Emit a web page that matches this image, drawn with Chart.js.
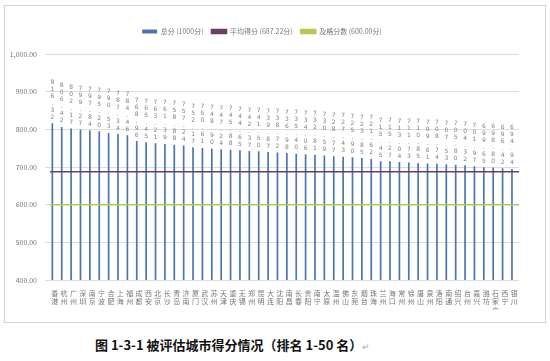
<!DOCTYPE html>
<html>
<head>
<meta charset="utf-8">
<script src="https://cdn.jsdelivr.net/npm/chart.js@4.4.1/dist/chart.umd.min.js"></script>
<style>
  body { margin: 0; background: #fff; width: 550px; height: 361px; overflow: hidden; position: relative; }
  #box { position: absolute; left: 4px; top: 5px; width: 540px; height: 316px; border: 1px solid #d4d4d4; }
  #caption { position: absolute; left: 95px; top: 335px; font-family: "Noto Sans CJK SC", sans-serif; font-weight: bold; font-size: 13px; color: #111; white-space: nowrap; }
  #caption span { color: #aaa; font-weight: normal; font-size: 9px; }
</style>
</head>
<body>
<div id="box"><canvas id="scoreChart" width="540" height="316"></canvas></div>
<div id="caption">图 1-3-1 被评估城市得分情况（排名 1-50 名）<span>↵</span></div>
<script>
// cities, ranked 1-50
const cities = ['香港','杭州','广州','深圳','南京','宁波','合肥','上海','福州','成都',
  '西安','北京','长沙','青岛','济南','厦门','武汉','苏州','天津','重庆',
  '无锡','郑州','昆明','大连','沈阳','南昌','长春','贵阳','南宁','太原',
  '温州','佛山','东莞','烟台','珠海','兰州','海口','常州','徐州','唐山',
  '泉州','洛阳','南通','绍兴','台州','嘉兴','潍坊','石家庄','西宁','银川'];

// total score of each city (out of 1000)
const scores = [816.32, 806.42, 802.17, 799.27, 797.84, 795.20, 790.53, 787.34, 784.46, 768.96,
  765.45, 763.21, 761.39, 758.88, 757.24, 752.17, 750.61, 748.90, 747.24, 745.88,
  744.65, 742.37, 741.50, 739.87, 738.72, 736.98, 735.40, 734.06, 732.81, 730.59,
  728.77, 727.43, 725.90, 723.85, 721.62, 715.45, 715.27, 713.04, 711.73, 710.85,
  709.61, 708.74, 707.53, 705.80, 704.32, 701.97, 699.65, 698.80, 696.42, 694.94];

const avgScore = 687.22;
const passScore = 600;
const yTicks = [400, 500, 600, 700, 800, 900, 1000];

const fmt = v => v.toLocaleString('en-US', {minimumFractionDigits: 2, maximumFractionDigits: 2});

//draws value labels above the bars, one character per line
const stackedLabels = {
  id: 'stackedLabels',
  afterDatasetsDraw(chart) {
    const ctx = chart.ctx;
    const meta = chart.getDatasetMeta(0);
    ctx.save();
    ctx.font = '6px "DejaVu Sans", sans-serif';
    ctx.fillStyle = '#808080';
    ctx.textAlign = 'center';
    ctx.textBaseline = 'bottom';
    meta.data.forEach((bar, i) => {
      const chars = scores[i].toFixed(2).split('');
      const step = 7;
      let y = bar.y - 3 - (chars.length - 1) * step;
      chars.forEach(c => {
        ctx.fillText(c, bar.x, y);
        y += step;
      });
    });
    ctx.restore();
  }
};

//extra room between legend and plot area
const legendGap = {
  id: 'legendGap',
  beforeLayout(chart) {
    const legend = chart.legend;
    if (legend && !legend._gapPatched) {
      const fit = legend.fit;
      legend.fit = function() {
        fit.call(this);
        this.height += 9;
      };
      legend._gapPatched = true;
    }
  }
};

Chart.defaults.font.family = '"Noto Sans CJK SC", sans-serif';
Chart.defaults.color = '#777';

new Chart(document.getElementById('scoreChart'), {
  type: 'bar',
  data: {
    labels: cities.map(c => c.split('')),
    datasets: [{
      label: '总分 (1000分)',
      data: scores,
      backgroundColor: '#4a76ad',
      barPercentage: 0.36,
      categoryPercentage: 1,
      order: 2
    }, {
      type: 'line',
      label: '平均得分 (687.22分)',
      data: [{x: 0, y: avgScore}, {x: 1, y: avgScore}],
      xAxisID: 'x2',
      borderColor: '#6e3f63',
      backgroundColor: '#6e3f63',
      borderWidth: 1.5,
      pointRadius: 0,
      order: 1
    }, {
      type: 'line',
      label: '及格分数 (600.00分)',
      data: [{x: 0, y: passScore}, {x: 1, y: passScore}],
      xAxisID: 'x2',
      borderColor: '#b3c94f',
      backgroundColor: '#b3c94f',
      borderWidth: 1.5,
      pointRadius: 0,
      order: 1
    }]
  },
  options: {
    responsive: false,
    animation: false,
    layout: { padding: { top: 14, right: 26, bottom: 12, left: 0 } },
    scales: {
      x: {
        afterFit: axis => { axis.height = 30; },
        grid: { display: false },
        border: { display: false },
        ticks: { autoSkip: false, maxRotation: 0, font: { size: 7 }, color: '#777', padding: 1 }
      },
      x2: {
        type: 'linear',
        display: false,
        offset: false,
        min: 0,
        max: 1
      },
      y: {
        min: 400,
        max: 1000,
        afterBuildTicks: axis => { axis.ticks = yTicks.map(v => ({value: v})); },
        afterFit: axis => { axis.width = 45; },
        border: { display: false },
        grid: { color: '#dcdcdc', tickLength: 5 },
        ticks: { font: { size: 7 }, color: '#777', callback: v => fmt(v), padding: 8 }
      }
    },
    plugins: {
      legend: {
        labels: {
          boxWidth: 15,
          boxHeight: 4,
          font: { size: 7 },
          color: '#777',
          padding: 8,
          sort: (a, b) => a.datasetIndex - b.datasetIndex
        }
      },
      tooltip: { enabled: false }
    }
  },
  plugins: [stackedLabels, legendGap]
});
</script>
</body>
</html>
